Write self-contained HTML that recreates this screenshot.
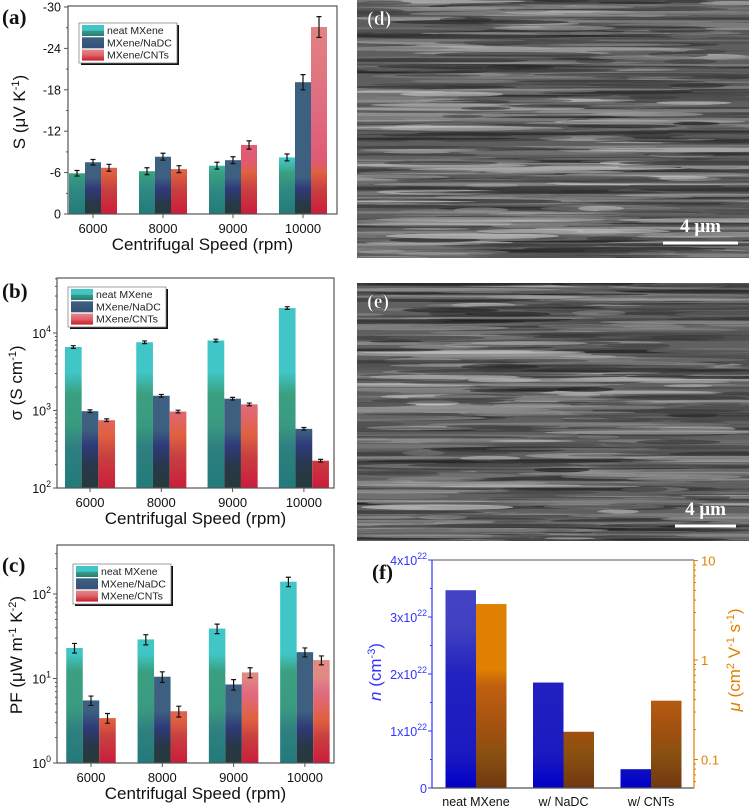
<!DOCTYPE html>
<html><head><meta charset="utf-8">
<style>
html,body{margin:0;padding:0;background:#fff;}
svg{display:block;font-family:"Liberation Sans",Arial,sans-serif;}
</style></head>
<body>
<svg id="fig" width="749" height="811" viewBox="0 0 749 811" xmlns="http://www.w3.org/2000/svg">
<defs>
<linearGradient id="gNeatA" gradientUnits="userSpaceOnUse" x1="0" y1="7" x2="0" y2="214">
<stop offset="0" stop-color="#40c6c6"/><stop offset="0.74" stop-color="#40c6c6"/><stop offset="0.8" stop-color="#3aa080"/><stop offset="0.88" stop-color="#2f8a82"/><stop offset="1" stop-color="#227a7a"/></linearGradient>
<linearGradient id="gNadcA" gradientUnits="userSpaceOnUse" x1="0" y1="7" x2="0" y2="214">
<stop offset="0" stop-color="#3d6080"/><stop offset="0.82" stop-color="#3d6080"/><stop offset="0.88" stop-color="#2e3a78"/><stop offset="0.95" stop-color="#283848"/><stop offset="1" stop-color="#263a3a"/></linearGradient>
<linearGradient id="gCntA" gradientUnits="userSpaceOnUse" x1="0" y1="7" x2="0" y2="214">
<stop offset="0" stop-color="#e08a84"/><stop offset="0.5" stop-color="#e06a80"/><stop offset="0.75" stop-color="#e05a72"/><stop offset="0.8" stop-color="#e06040"/><stop offset="0.88" stop-color="#c84040"/><stop offset="1" stop-color="#cc1c3c"/></linearGradient>
<linearGradient id="gNeatB" gradientUnits="userSpaceOnUse" x1="0" y1="278" x2="0" y2="488">
<stop offset="0" stop-color="#40c6c6"/><stop offset="0.45" stop-color="#40c6c6"/><stop offset="0.55" stop-color="#3aa080"/><stop offset="0.7" stop-color="#3a9a80"/><stop offset="0.8" stop-color="#2f8080"/><stop offset="1" stop-color="#227a7a"/></linearGradient>
<linearGradient id="gNadcB" gradientUnits="userSpaceOnUse" x1="0" y1="278" x2="0" y2="488">
<stop offset="0" stop-color="#3d6080"/><stop offset="0.72" stop-color="#3d6080"/><stop offset="0.8" stop-color="#2e3a78"/><stop offset="0.9" stop-color="#283848"/><stop offset="1" stop-color="#263a3a"/></linearGradient>
<linearGradient id="gCntB" gradientUnits="userSpaceOnUse" x1="0" y1="278" x2="0" y2="488">
<stop offset="0" stop-color="#e08a84"/><stop offset="0.5" stop-color="#e08a84"/><stop offset="0.6" stop-color="#e06a80"/><stop offset="0.75" stop-color="#e06040"/><stop offset="0.85" stop-color="#c84040"/><stop offset="1" stop-color="#cc1c3c"/></linearGradient>
<linearGradient id="gNeatC" gradientUnits="userSpaceOnUse" x1="0" y1="545" x2="0" y2="763">
<stop offset="0" stop-color="#40c6c6"/><stop offset="0.5" stop-color="#40c6c6"/><stop offset="0.58" stop-color="#3aa080"/><stop offset="0.75" stop-color="#3a9a80"/><stop offset="0.85" stop-color="#2f8080"/><stop offset="1" stop-color="#227a7a"/></linearGradient>
<linearGradient id="gNadcC" gradientUnits="userSpaceOnUse" x1="0" y1="545" x2="0" y2="763">
<stop offset="0" stop-color="#3d6080"/><stop offset="0.76" stop-color="#3d6080"/><stop offset="0.84" stop-color="#2e3a78"/><stop offset="0.92" stop-color="#283848"/><stop offset="1" stop-color="#263a3a"/></linearGradient>
<linearGradient id="gCntC" gradientUnits="userSpaceOnUse" x1="0" y1="545" x2="0" y2="763">
<stop offset="0" stop-color="#e08a84"/><stop offset="0.6" stop-color="#e08a84"/><stop offset="0.68" stop-color="#e06a80"/><stop offset="0.8" stop-color="#e06040"/><stop offset="0.88" stop-color="#c84040"/><stop offset="1" stop-color="#cc1c3c"/></linearGradient>
<linearGradient id="gN" gradientUnits="userSpaceOnUse" x1="0" y1="560" x2="0" y2="788">
<stop offset="0" stop-color="#4444c4"/><stop offset="0.3" stop-color="#4040c0"/><stop offset="0.5" stop-color="#2222c0"/><stop offset="0.85" stop-color="#1a1ac0"/><stop offset="1" stop-color="#0000c8"/></linearGradient>
<linearGradient id="gM" gradientUnits="userSpaceOnUse" x1="0" y1="560" x2="0" y2="788">
<stop offset="0" stop-color="#e08000"/><stop offset="0.48" stop-color="#e08000"/><stop offset="0.55" stop-color="#c06010"/><stop offset="0.75" stop-color="#a05010"/><stop offset="0.85" stop-color="#8a5010"/><stop offset="1" stop-color="#703810"/></linearGradient>
<linearGradient id="lgNeat" x1="0" y1="0" x2="0" y2="1"><stop offset="0" stop-color="#40c6c6"/><stop offset="0.5" stop-color="#40c6c6"/><stop offset="0.55" stop-color="#3a9a80"/><stop offset="1" stop-color="#2a7a7a"/></linearGradient>
<linearGradient id="lgNadc" x1="0" y1="0" x2="0" y2="1"><stop offset="0" stop-color="#3d6080"/><stop offset="1" stop-color="#34507a"/></linearGradient>
<linearGradient id="lgCnt" x1="0" y1="0" x2="0" y2="1"><stop offset="0" stop-color="#e08a84"/><stop offset="0.5" stop-color="#e06070"/><stop offset="0.7" stop-color="#d04840"/><stop offset="1" stop-color="#cc1c3c"/></linearGradient>
</defs>
<g id="sem"></g>
<g id="charts"></g>
</svg>
<script>
// ---- data ----
const speeds = ["6000","8000","9000","10000"];
const seriesNames = ["neat MXene","MXene/NaDC","MXene/CNTs"];
const sNeat = [-5.9,-6.2,-7.0,-8.2];
const sNadc = [-7.5,-8.3,-7.8,-19.1];
const sCnt  = [-6.7,-6.5,-10.0,-27.1];
const sErrNeat = [0.4,0.5,0.5,0.5];
const sErrNadc = [0.4,0.5,0.5,1.1];
const sErrCnt  = [0.5,0.5,0.6,1.5];
const sTicks = [0,-6,-12,-18,-24,-30];
const condNeat = [6600,7600,8000,21000];
const condNadc = [980,1550,1420,580];
const condCnt  = [750,970,1200,225];
const condErrFrac = [0.04,0.04,0.04,0.04];
const pfNeat = [23,29,39,140];
const pfNadc = [5.5,10.5,8.5,20.5];
const pfCnt  = [3.4,4.1,11.8,16.5];
const pfErrNeat = [3,4,5,18];
const pfErrNadc = [0.7,1.5,1.2,2.5];
const pfErrCnt  = [0.45,0.6,1.6,2];
const fCats = ["neat MXene","w/ NaDC","w/ CNTs"];
const fN  = [3.47e22,1.85e22,0.33e22];
const fMu = [3.65,0.19,0.39];
const fNTicks = [0,1,2,3,4];
const fMuTicks = [0.1,1,10];

const NS="http://www.w3.org/2000/svg";
const root=document.getElementById('charts');
function el(tag,attrs,parent,text){const e=document.createElementNS(NS,tag);for(const k in attrs)e.setAttribute(k,attrs[k]);if(text!==undefined)e.textContent=text;(parent||root).appendChild(e);return e;}

// ---- SEM images (texture, deterministic) ----
(function(){
  const g=document.getElementById('sem');
  let seed=12345;function rnd(){seed=(seed*1103515245+12345)&0x7fffffff;return seed/0x7fffffff;}
  function sem(x,y,w,h,name,base,label,bar){
    const grp=el('g',{},g);
    
    
    const cp='cp'+name;
    const c=el('clipPath',{id:cp},grp);el('rect',{x:x,y:y,width:w,height:h},c);
    const inner=el('g',{'clip-path':'url(#'+cp+')'},grp);
    el('rect',{x:x,y:y,width:w,height:h,fill:base},inner);
    for(let i=0;i<600;i++){
      const cy=y+rnd()*h, cx=x+rnd()*w, rx=20+rnd()*110, ry=0.6+rnd()*2.2;
      const v=Math.floor(rnd()<0.55?25+rnd()*55:120+rnd()*90);
      el('ellipse',{cx:cx,cy:cy,rx:rx,ry:ry,fill:'rgb('+v+','+v+','+v+')',opacity:(0.3+rnd()*0.4).toFixed(2)},inner);
    }
    const t=el('text',{x:x+10,y:y+25,'font-family':'Liberation Serif,serif','font-weight':'bold','font-size':'20',fill:'#fff',stroke:'#555','stroke-width':'0.6'},grp,label);
    
    const sb=el('line',{x1:bar[0],y1:bar[2],x2:bar[1],y2:bar[2],stroke:'#fff','stroke-width':'3'},grp);
    
    const st=el('text',{x:(bar[0]+bar[1])/2,y:bar[2]-11,'text-anchor':'middle','font-family':'Liberation Serif,serif','font-weight':'bold','font-size':'19',fill:'#fff'},grp,'4 μm');
    
  }
  sem(357,0,392,258,'sem-image-d','#5e5e5e','(d)',[663,738,243]);
  sem(357,283,392,258,'sem-image-e','#606060','(e)',[675,736,526]);
})();

// ---- helpers ----
function sup(t,base,exp){el('tspan',{},t,base);el('tspan',{dy:'-6','font-size':'0.7em'},t,exp);}
function legend(x,y,grads){
  const lg=el('g',{});
  
  
  el('rect',{x:x+2,y:y+2,width:98,height:40,fill:'#111'},lg);
  el('rect',{x:x,y:y,width:98,height:40,fill:'#fff',stroke:'#888','stroke-width':'0.8'},lg);
  seriesNames.forEach((n,i)=>{
    el('rect',{x:x+3,y:y+2+i*12.3,width:22,height:11,fill:'url(#'+grads[i]+')'},lg);
    const t=el('text',{x:x+28,y:y+11+i*12.3,'font-size':'10.5',fill:'#222'},lg,n);
    
  });
}
function barChart(cfg){
  const {x0,x1,yT,yB,yv,pad,step,bw,series,grads,errs,label,lx,ly}=cfg;
  const g=el('g',{});
  
  
  const xc=i=>x0+pad+i*step;
  series.forEach((arr,s)=>{
    arr.forEach((v,i)=>{
      const bx=xc(i)+(s-1.5)*bw, y=yv(v);
      const b=el('rect',{x:bx,y:y,width:bw,height:yB-y,fill:'url(#'+grads[s]+')'},g);
      
      
      const e=errs(s,i,v);
      const cx=bx+bw/2, ya=yv(e[0]), yb=yv(e[1]);
      const eb=el('path',{d:`M${cx},${ya}V${yb}M${cx-2.5},${ya}H${cx+2.5}M${cx-2.5},${yb}H${cx+2.5}`,stroke:'#111','stroke-width':'1.2',fill:'none'},g);
      
      
    });
  });
  el('rect',{x:x0,y:yT,width:x1-x0,height:yB-yT,fill:'none',stroke:'#555','stroke-width':'1.2'},g);
  speeds.forEach((s,i)=>{
    el('line',{x1:xc(i),y1:yB,x2:xc(i),y2:yB+4,stroke:'#555'},g);
    const t=el('text',{x:xc(i),y:yB+19,'text-anchor':'middle','font-size':'13',fill:'#111'},g,s);
    
  });
  const xt=el('text',{x:(x0+x1)/2,y:yB+36,'text-anchor':'middle','font-size':'17',fill:'#111'},g,'Centrifugal Speed (rpm)');
  
  const pl=el('text',{x:lx,y:ly,'font-family':'Liberation Serif,serif','font-weight':'bold','font-size':'21',fill:'#111'},g,label);
  
  return {g,xc};
}

// ---- panel (a) ----
(function(){
  const yT=7,yB=214,yv=v=>yB+(v/30)*(yB-yT);
  const errArr=[sErrNeat,sErrNadc,sErrCnt];
  const {g}=barChart({name:'chart-a-seebeck',x0:68,x1:337,yT:yT-1,yB,yv,pad:25,step:70,bw:16,series:[sNeat,sNadc,sCnt],grads:['gNeatA','gNadcA','gCntA'],
    errs:(s,i,v)=>[v-errArr[s][i],v+errArr[s][i]],label:'(a)',lx:2,ly:24});
  for(let v=0;v>=-30;v-=3){const y=yv(v);el('line',{x1:68,y1:y,x2:v%6===0?64:66,y2:y,stroke:'#555'},g);}
  sTicks.forEach(v=>{const t=el('text',{x:61,y:yv(v)+4.5,'text-anchor':'end','font-size':'12.5',fill:'#111'},g,String(v));
    });
  const yt=el('text',{transform:'translate(25,112) rotate(-90)','text-anchor':'middle','font-size':'17',fill:'#111'},g);
  
  el('tspan',{},yt,'S (μV K');el('tspan',{dy:'-6','font-size':'11'},yt,'-1');el('tspan',{dy:'6'},yt,')');
  legend(79,23,['lgNeat','lgNadc','lgCnt']);
})();

// ---- panel (b) ----
(function(){
  const yT=278,yB=488,dec=77.5,yv=v=>yB-(Math.log10(v)-2)*dec;
  const {g}=barChart({name:'chart-b-conductivity',x0:57,x1:334,yT,yB,yv,pad:33,step:71.3,bw:16.7,series:[condNeat,condNadc,condCnt],grads:['gNeatB','gNadcB','gCntB'],
    errs:(s,i,v)=>[v*(1-condErrFrac[i]),v*(1+condErrFrac[i])],label:'(b)',lx:2,ly:298});
  for(let d=2;d<=4;d++)for(let m=1;m<=9;m++){const v=m*Math.pow(10,d),y=yv(v);if(y<yT)continue;
    el('line',{x1:57,y1:y,x2:m===1?53:55,y2:y,stroke:'#555'},g);}
  [2,3,4].forEach(d=>{const t=el('text',{x:51,y:yv(Math.pow(10,d))+5,'text-anchor':'end','font-size':'12.5',fill:'#111'},g);
    sup(t,'10',String(d));});
  const yt=el('text',{transform:'translate(22,383) rotate(-90)','text-anchor':'middle','font-size':'17',fill:'#111'},g);
  
  el('tspan',{},yt,'σ (S cm');el('tspan',{dy:'-6','font-size':'11'},yt,'-1');el('tspan',{dy:'6'},yt,')');
  legend(68,287,['lgNeat','lgNadc','lgCnt']);
})();

// ---- panel (c) ----
(function(){
  const yT=545,yB=763,dec=84.5,yv=v=>yB-Math.log10(v)*dec;
  const errArr=[pfErrNeat,pfErrNadc,pfErrCnt];
  const {g}=barChart({name:'chart-c-power-factor',x0:57,x1:334,yT,yB,yv,pad:34,step:71.3,bw:16.5,series:[pfNeat,pfNadc,pfCnt],grads:['gNeatC','gNadcC','gCntC'],
    errs:(s,i,v)=>[v-errArr[s][i],v+errArr[s][i]],label:'(c)',lx:2,ly:572});
  for(let d=0;d<=2;d++)for(let m=1;m<=9;m++){const v=m*Math.pow(10,d),y=yv(v);if(y<yT)continue;
    el('line',{x1:57,y1:y,x2:m===1?53:55,y2:y,stroke:'#555'},g);}
  [0,1,2].forEach(d=>{const t=el('text',{x:51,y:yv(Math.pow(10,d))+5,'text-anchor':'end','font-size':'12.5',fill:'#111'},g);
    sup(t,'10',String(d));});
  const yt=el('text',{transform:'translate(22,655) rotate(-90)','text-anchor':'middle','font-size':'17',fill:'#111'},g);
  
  el('tspan',{},yt,'PF (μW m');el('tspan',{dy:'-6','font-size':'11'},yt,'-1');el('tspan',{dy:'6'},yt,' K');
  el('tspan',{dy:'-6','font-size':'11'},yt,'-2');el('tspan',{dy:'6'},yt,')');
  legend(73,564,['lgNeat','lgNadc','lgCnt']);
})();

// ---- panel (f) ----
(function(){
  const x0=432,x1=694,yT=560,yB=788;
  const yn=v=>yB-v/4e22*(yB-yT);
  const dec=99.5,ym=v=>660-Math.log10(v)*dec;
  const g=el('g',{});
  
  
  const xc=i=>x0+44+i*87.5, bw=30.5;
  fCats.forEach((c,i)=>{
    const yb=yn(fN[i]);
    const b=el('rect',{x:xc(i)-bw,y:yb,width:bw,height:yB-yb,fill:'url(#gN)'},g);
    
    const ym2=ym(fMu[i]);
    const b2=el('rect',{x:xc(i),y:ym2,width:bw,height:yB-ym2,fill:'url(#gM)'},g);
    
    const t=el('text',{x:xc(i),y:yB+18,'text-anchor':'middle','font-size':'12.5',fill:'#111'},g,c);
    
  });
  el('line',{x1:x0,y1:yB,x2:x1,y2:yB,stroke:'#555','stroke-width':'1.2'},g);
  el('line',{x1:x0,y1:yT,x2:x1,y2:yT,stroke:'#555','stroke-width':'1'},g);
  el('line',{x1:x0,y1:yT,x2:x0,y2:yB,stroke:'#3333ff','stroke-width':'1.2'},g);
  el('line',{x1:x1,y1:yT,x2:x1,y2:yB,stroke:'#e08000','stroke-width':'1.2'},g);
  for(let k=0;k<=8;k++){const y=yn(k*0.5e22);el('line',{x1:x0,y1:y,x2:x0-(k%2?2:4),y2:y,stroke:'#3333ff'},g);}
  fNTicks.forEach(k=>{const t=el('text',{x:x0-5,y:yn(k*1e22)+5,'text-anchor':'end','font-size':'12.5',fill:'#3333ff'},g);
    if(k===0)t.textContent='0';else sup(t,k+'x10','22');
    });
  for(let d=-2;d<=1;d++)for(let m=1;m<=9;m++){const v=m*Math.pow(10,d),y=ym(v);if(y<yT||y>yB)continue;
    el('line',{x1:x1,y1:y,x2:x1+(m===1?4:2),y2:y,stroke:'#e08000'},g);}
  fMuTicks.forEach(v=>{const t=el('text',{x:x1+7,y:ym(v)+5,'font-size':'13',fill:'#e08000'},g,String(v));
    });
  const yt=el('text',{transform:'translate(381,672) rotate(-90)','text-anchor':'middle','font-size':'17',fill:'#3333ff'},g);
  
  el('tspan',{'font-style':'italic'},yt,'n');el('tspan',{},yt,' (cm');el('tspan',{dy:'-6','font-size':'11'},yt,'-3');el('tspan',{dy:'6'},yt,')');
  const yt2=el('text',{transform:'translate(740,660) rotate(-90)','text-anchor':'middle','font-size':'17',fill:'#e08000'},g);
  
  el('tspan',{'font-style':'italic'},yt2,'μ');el('tspan',{},yt2,' (cm');el('tspan',{dy:'-6','font-size':'11'},yt2,'2');
  el('tspan',{dy:'6'},yt2,' V');el('tspan',{dy:'-6','font-size':'11'},yt2,'-1');el('tspan',{dy:'6'},yt2,' s');
  el('tspan',{dy:'-6','font-size':'11'},yt2,'-1');el('tspan',{dy:'6'},yt2,')');
  const pl=el('text',{x:372,y:579,'font-family':'Liberation Serif,serif','font-weight':'bold','font-size':'21',fill:'#111'},g,'(f)');
  
})();
</script>
</body></html>
